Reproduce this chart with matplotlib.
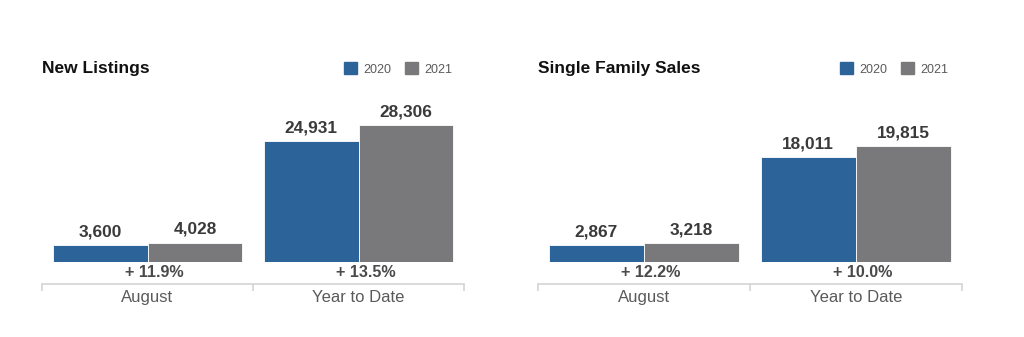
import matplotlib.pyplot as plt
from matplotlib.patches import Patch

# datos
categorias = ["August", "Year to Date"]
series = ["2020", "2021"]
titulos = ["New Listings", "Single Family Sales"]
nuevos_2020 = [3600, 24931]
nuevos_2021 = [4028, 28306]
ventas_2020 = [2867, 18011]
ventas_2021 = [3218, 19815]

azul = "#2c6399"
gris = "#79797b"
W, H = 1024, 337

plt.rcParams['font.family'] = ['Liberation Sans', 'DejaVu Sans']

fig = plt.figure(figsize=(W / 100, H / 100), dpi=100)

# (izquierda px, ancho px, factor de escala vertical)
paneles = [
    (42, 422, 167 / 137, nuevos_2020, nuevos_2021, titulos[0], 452),
    (538, 424, 167 / 116, ventas_2020, ventas_2021, titulos[1], 948),
]

for izq, ancho, factor, v20, v21, titulo, leg_x in paneles:
    ax = fig.add_axes([izq / W, (H - 262) / H, ancho / W, 167 / H])
    x = [0.5, 1.5]
    w = 0.45
    b1 = ax.bar([p - w / 2 for p in x], v20, width=w, color=azul,
                edgecolor="white", linewidth=0.6)
    b2 = ax.bar([p + w / 2 for p in x], v21, width=w, color=gris,
                edgecolor="white", linewidth=0.6)
    ax.set_xlim(0, 2)
    ax.set_ylim(0, max(v21 + v20) * factor)

    # etiquetas de valor
    for barras, vals in ((b1, v20), (b2, v21)):
        for r, v in zip(barras, vals):
            ax.annotate(f"{v:,}", (r.get_x() + r.get_width() / 2, v),
                        xytext=(0, 4), textcoords="offset points",
                        ha="center", va="bottom", fontsize=12.4,
                        fontweight="bold", color="#3a3a3a")

    # cambio porcentual
    for p, a, b in zip(x, v20, v21):
        cambio = (b - a) / a * 100
        ax.annotate(f"+ {cambio:.1f}%", (p, 0), xytext=(5, -2),
                    textcoords="offset points", ha="center", va="top",
                    fontsize=11.6, fontweight="bold", color="#4a4a4a")

    for s in ("top", "right", "left"):
        ax.spines[s].set_visible(False)
    ax.spines["bottom"].set_position(("outward", 16))
    ax.spines["bottom"].set_color("#d4d4d4")
    ax.spines["bottom"].set_linewidth(1.2)
    ax.set_yticks([])
    ax.set_xticks([0, 1, 2])
    ax.set_xticklabels([])
    ax.tick_params(axis="x", which="major", length=5, width=1.2,
                   color="#d4d4d4", direction="out")
    ax.set_xticks(x, minor=True)
    ax.set_xticklabels(categorias, minor=True)
    ax.tick_params(axis="x", which="minor", length=0, pad=4,
                   labelsize=12, labelcolor="#5a5a5a")

    fig.text(izq / W, (H - 69) / H, titulo, ha="left", va="center",
             fontsize=12.5, fontweight="bold", color="#111111")

    manijas = [Patch(color=azul), Patch(color=gris)]
    fig.legend(manijas, series, loc="center right",
               bbox_to_anchor=(leg_x / W, (H - 69) / H), ncol=2,
               frameon=False, fontsize=9, labelcolor="#5a5a5a",
               handlelength=1.04, handleheight=1.04, handletextpad=0.48,
               columnspacing=1.1, borderaxespad=0, borderpad=0)

plt.savefig("out.png", dpi=100)
